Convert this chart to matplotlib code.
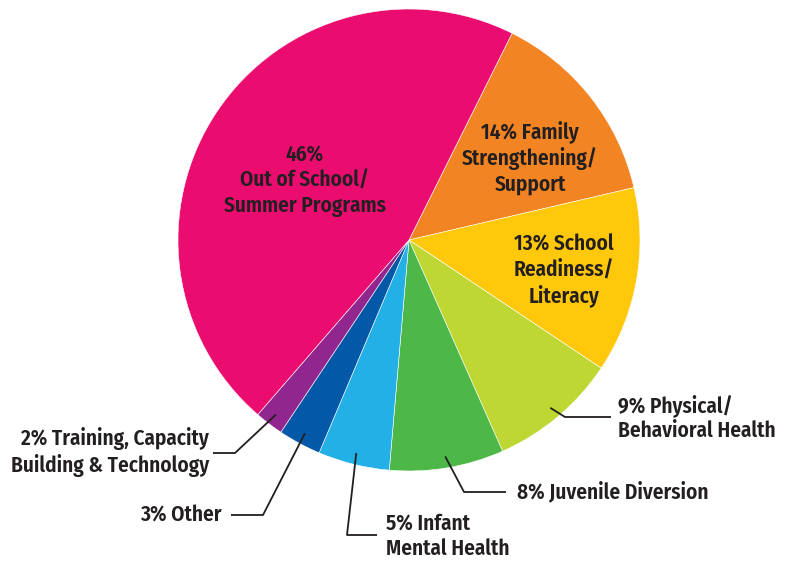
import numpy as np
import matplotlib.pyplot as plt

# slices, clockwise from the orange one
labels = ['14% Family\nStrengthening/\nSupport',
          '13% School\nReadiness/\nLiteracy',
          '9% Physical/\nBehavioral Health',
          '8% Juvenile Diversion',
          '5% Infant\nMental Health',
          '3% Other',
          '2% Training, Capacity\nBuilding & Technology',
          '46%\nOut of School/\nSummer Programs']
shares = [14, 13, 9, 8, 5, 3, 2, 46]
colors = ['#F38423', '#FFC80B', '#BFD732', '#4DB748', '#23B0E6',
          '#0359A8', '#91278E', '#EA0C6F']

W, H = 791, 561
fam = ['Fira Sans Condensed', 'Open Sans Condensed', 'DejaVu Sans']
txt = '#231F20'
fs = 15.3

fig = plt.figure(figsize=(W / 100, H / 100), dpi=100)
ax = fig.add_axes([0, 0, 1, 1])
ax.set_aspect('equal')
ax.axis('off')

cx, cy, r = 409, H - 240, 231
wedges, _ = ax.pie(shares, colors=colors, startangle=63.5, counterclock=False,
                   center=(cx, cy), radius=r,
                   wedgeprops=dict(edgecolor='white', linewidth=0.4))
ax.set_xlim(0, W)
ax.set_ylim(0, H)

# labels inside the pie (pixel positions, y from top)
inside = {0: (530, 158), 1: (564, 270), 7: (305, 181)}
for i, (x, y) in inside.items():
    ax.text(x, H - y, labels[i], ha='center', va='center', fontsize=fs,
            fontweight='semibold', color=txt, family=fam, linespacing=1.22)

# outside labels with leader lines: (elbow, line end, text x, text y, align)
outside = {
    2: ((565, 417), (611, 417), 618, 418, 'left'),
    3: ((464, 492), (506, 492), 517, 492, 'left'),
    4: ((347, 535), (377, 535), 386, 536, 'left'),
    5: ((263, 515), (231, 515), 222, 515, 'right'),
    6: ((235, 453), (213, 453), 209, 452, 'right'),
}
for i, (elb, end, tx, ty, ha) in outside.items():
    w = wedges[i]
    mid = np.deg2rad((w.theta1 + w.theta2) / 2)
    px, py = cx + 0.95 * r * np.cos(mid), cy + 0.95 * r * np.sin(mid)
    ax.plot([px, elb[0], end[0]], [py, H - elb[1], H - end[1]],
            color='#231F20', lw=1.3, solid_capstyle='butt')
    ax.text(tx, H - ty, labels[i], ha=ha, va='center', fontsize=fs,
            fontweight='semibold', color=txt, family=fam, linespacing=1.22,
            multialignment=ha)

fig.savefig('out.png', dpi=100)
